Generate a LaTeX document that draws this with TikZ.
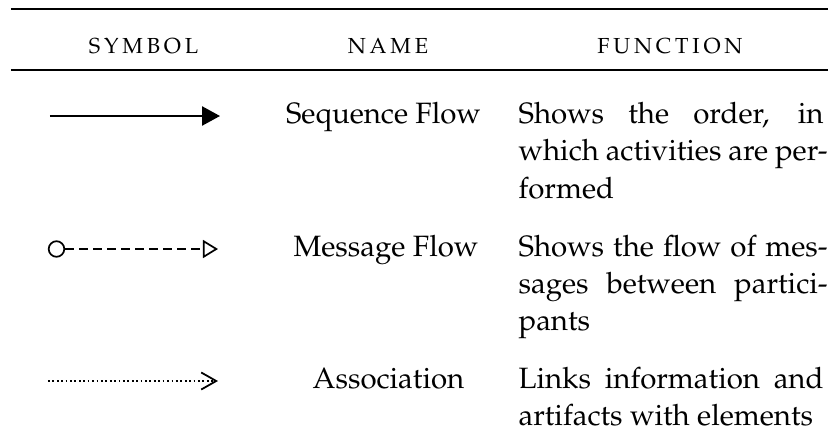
\documentclass[tikz,border=0pt]{standalone}
\usepackage[T1]{fontenc}
\renewcommand\rmdefault{ppl}
\usetikzlibrary{arrows.meta}

% letter-spaced caps for the column headings
\newcommand\lspc[1]{\lspcloop#1\relax\unkern}
\def\lspcloop#1{\ifx\relax#1\else#1\kern1.3pt\expandafter\lspcloop\fi}

% justified line widths of the function column
\newcommand\wfull{103.7pt}
\newcommand\whyph{105.1pt}

\begin{document}
\begin{tikzpicture}[x=0.34pt,y=-0.34pt,
  heavyrule/.style={line width=0.8pt},
  lightrule/.style={line width=0.5pt},
  headcell/.style={anchor=base, inner sep=0pt, font=\fontsize{7.4pt}{9pt}\selectfont},
  namecell/.style={anchor=base, inner sep=0pt, font=\fontsize{10pt}{12.6pt}\selectfont},
  fnline/.style={anchor=base west, inner sep=0pt, font=\fontsize{10pt}{12.6pt}\selectfont},
  seqflow/.style={line width=0.65pt, -{Triangle[length=6.1pt,width=6.5pt]}},
  msgstart/.style={circle, draw, line width=0.58pt, minimum size=5.3pt, inner sep=0pt},
  msgflow/.style={line width=0.58pt, dash pattern=on 3.06pt off 1.7pt,
    -{Triangle[open,length=5.1pt,width=6.1pt]}},
  assoc/.style={line width=0.6pt, dash pattern=on 0.6pt off 0.9pt,
    -{Straight Barb[length=5.1pt,width=5.8pt,line width=0.6pt]}}]
\useasboundingbox (0,0) rectangle (828,441);

% table rules
\draw[heavyrule] (11,9) -- (828,9);
\draw[lightrule] (11,70) -- (828,70);

% headings
\node[headcell] (hsym) at (143.5,53) {\lspc{SYMBOL}};
\node[headcell] (hname) at (388,53) {\lspc{NAME}};
\node[headcell] (hfun) at (670,53) {\lspc{FUNCTION}};

% sequence flow
\coordinate (sf-a) at (50,116);
\coordinate (sf-b) at (220,116);
\draw[seqflow] (sf-a) -- (sf-b);
\node[namecell] (sf-name) at (383.5,123) {Sequence Flow};
\node[fnline] (sf-f1) at (518,123) {\makebox[\wfull][s]{Shows the order, in}};
\node[fnline] (sf-f2) at (518,160.5) {\makebox[\whyph][s]{which activities are per-}};
\node[fnline] (sf-f3) at (518,198) {formed};

% message flow
\node[msgstart] (mf-a) at (56.5,249) {};
\coordinate (mf-b) at (218,249);
\draw[msgflow] (mf-a) -- (mf-b);
\node[namecell] (mf-name) at (386,256) {Message Flow};
\node[fnline] (mf-f1) at (518,256) {\makebox[\whyph][s]{Shows the flow of mes-}};
\node[fnline] (mf-f2) at (518,293) {\makebox[\whyph][s]{sages between partici-}};
\node[fnline] (mf-f3) at (518,330) {pants};

% association
\coordinate (as-a) at (48,381);
\coordinate (as-b) at (218,381);
\draw[assoc] (as-a) -- (as-b);
\node[namecell] (as-name) at (388.5,388) {Association};
\node[fnline] (as-f1) at (518,388) {\makebox[\wfull][s]{Links information and}};
\node[fnline] (as-f2) at (518,425) {artifacts with elements};
\end{tikzpicture}
\end{document}
